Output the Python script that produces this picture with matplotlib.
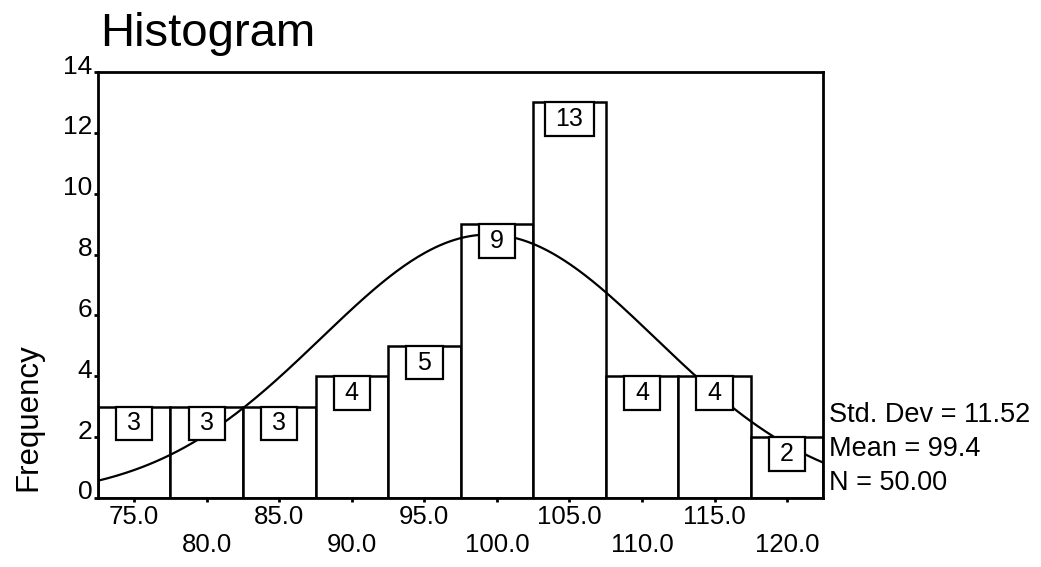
import numpy as np
import matplotlib
matplotlib.use('Agg')
import matplotlib.pyplot as plt
import matplotlib.transforms as mtransforms
from matplotlib.patches import Rectangle

plt.rcParams['font.family'] = ['Liberation Sans', 'DejaVu Sans']

# bin centres and counts
centers = [75, 80, 85, 90, 95, 100, 105, 110, 115, 120]
counts = [3, 3, 3, 4, 5, 9, 13, 4, 4, 2]
bin_width = 5
std_dev = 11.52
mean = 99.4
n = 50
yticks = [0, 2, 4, 6, 8, 10, 12, 14]

fig = plt.figure(figsize=(10.41, 5.67), dpi=100)
ax = fig.add_axes([0.094, 0.1217, 0.697, 0.7513])

ax.bar(centers, counts, width=bin_width, color='white', edgecolor='black', linewidth=1.8, zorder=2)

# normal curve
lo = centers[0] - bin_width / 2
hi = centers[-1] + bin_width / 2
xs = np.linspace(lo, hi, 300)
ys = n * bin_width / (std_dev * np.sqrt(2 * np.pi)) * np.exp(-0.5 * ((xs - mean) / std_dev) ** 2)
ax.plot(xs, ys, color='black', linewidth=1.6, zorder=3)

# count boxes
box_h = 1.1
for c, v in zip(centers, counts):
    lab = str(v)
    bw = 2.5 + 0.9 * (len(lab) - 1)
    ax.add_patch(Rectangle((c - bw / 2, v - box_h), bw, box_h, facecolor='white',
                           edgecolor='black', linewidth=1.6, zorder=4))
    ax.text(c, v - box_h / 2, lab, ha='center', va='center', fontsize=18, zorder=5)

ax.set_xlim(lo, hi)
ax.set_ylim(0, 14)
ax.set_xticks(centers)
ax.set_xticklabels([('%.1f' % c) if i % 2 == 0 else ('\n%.1f' % c) for i, c in enumerate(centers)],
                   fontsize=18.5, linespacing=1.22)
ax.set_yticks(yticks)
ax.set_yticklabels([str(t) for t in yticks], fontsize=19)
ax.tick_params(axis='both', length=3, width=2, direction='out', pad=2)
ax.tick_params(axis='y', pad=1)
off = mtransforms.ScaledTranslation(0, 8 / 100, fig.dpi_scale_trans)
for lab in ax.get_yticklabels():
    lab.set_transform(lab.get_transform() + off)
for s in ax.spines.values():
    s.set_linewidth(2)

ax.set_ylabel('Frequency', fontsize=22.5)
ax.yaxis.set_label_coords(-0.075, 0.19)

fig.text(100 / 1041, 1 - 46 / 567, 'Histogram', fontsize=34, ha='left', va='baseline')

stats = ['Std. Dev = %.2f' % std_dev, 'Mean = %.1f' % mean, 'N = %.2f' % n]
for i, t in enumerate(stats):
    ax.text(1.008, (498 - 415 - i * 34) / 426, t, transform=ax.transAxes,
            fontsize=19.5, ha='left', va='center')

fig.savefig('out.png', dpi=100)
